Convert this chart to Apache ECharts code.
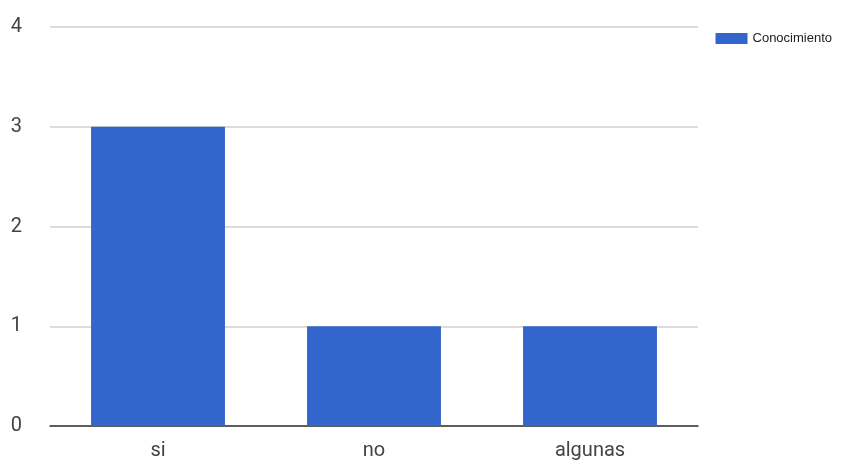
<!DOCTYPE html>
<html><head><meta charset="utf-8">
<script src="https://cdn.jsdelivr.net/npm/echarts@6/dist/echarts.min.js"></script>
<style>html,body{margin:0;padding:0;background:#fff}#c{width:849px;height:465px}</style>
</head><body><div id="c"></div>
<script>
const categories = ['si', 'no', 'algunas'];
const seriesName = 'Conocimiento';
const values = [3, 1, 1];
const chart = echarts.init(document.getElementById('c'));
chart.setOption({
  animation: false,
  grid: {left: 50, right: 151, top: 27, bottom: 39},
  legend: {
    data: [seriesName], right: 12, top: 27, itemWidth: 32, itemHeight: 11, itemGap: 5,
    textStyle: {fontSize: 13, color: '#222', fontFamily: 'Liberation Sans'}, icon: 'rect'
  },
  xAxis: {
    type: 'category', data: categories,
    axisLine: {lineStyle: {color: '#333', width: 1.5}}, axisTick: {show: false},
    axisLabel: {fontSize: 20, color: '#444', margin: 15, fontFamily: 'Roboto'}
  },
  yAxis: {
    type: 'value', min: 0, max: 4, interval: 1,
    axisLine: {show: false}, axisTick: {show: false},
    splitLine: {lineStyle: {color: '#d0d0d0', width: 1.5}},
    axisLabel: {fontSize: 20, color: '#444', margin: 28, fontFamily: 'Roboto'}
  },
  series: [{
    name: seriesName, type: 'bar', data: values, barWidth: '62%',
    itemStyle: {color: '#3366cc'}
  }]
});
</script></body></html>
